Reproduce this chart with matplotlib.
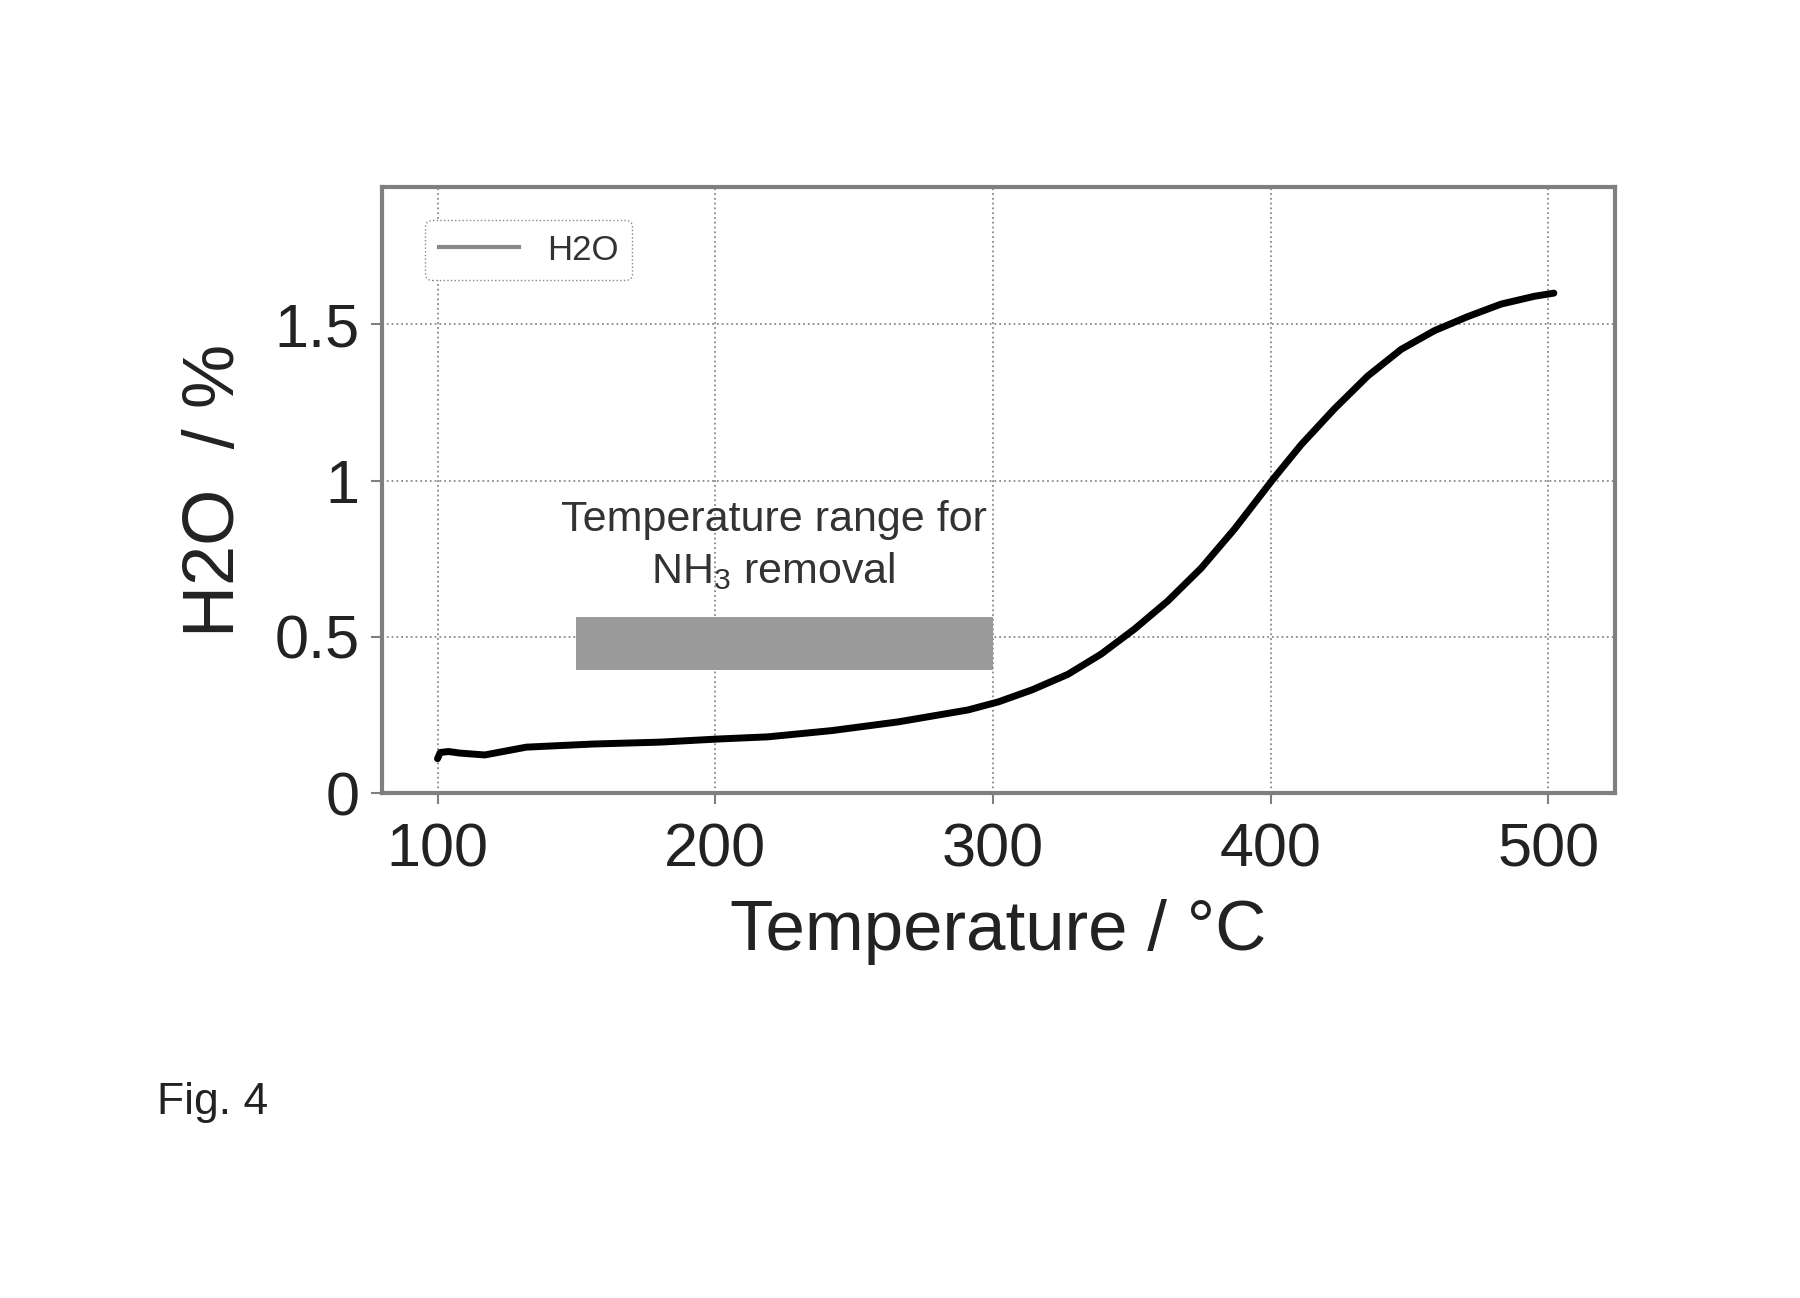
import matplotlib.pyplot as plt

plt.rcParams['font.family'] = ['Liberation Sans', 'DejaVu Sans']
plt.rcParams['mathtext.fontset'] = 'custom'
plt.rcParams['mathtext.rm'] = 'Liberation Sans'
plt.rcParams['mathtext.it'] = 'Liberation Sans'

# values
temp = [100, 101, 104, 108, 117, 132, 156, 180, 201, 219, 242, 266, 291, 302,
        314, 327, 339, 351, 363, 375, 387, 401, 411, 423, 435, 447, 459, 471,
        483, 495, 502]
h2o = [0.11, 0.13, 0.133, 0.128, 0.122, 0.147, 0.157, 0.163, 0.173, 0.18,
       0.20, 0.228, 0.266, 0.292, 0.33, 0.38, 0.445, 0.525, 0.615, 0.72,
       0.845, 1.006, 1.115, 1.23, 1.335, 1.42, 1.48, 1.525, 1.565, 1.59, 1.60]

nh3_range = [150, 300]
bar_y = [0.395, 0.565]

x_ticks = [100, 200, 300, 400, 500]
y_ticks = [0, 0.5, 1, 1.5]
y_tick_labels = ['0', '0.5', '1', '1.5']

fig = plt.figure(figsize=(18, 12.98), dpi=100)
ax = fig.add_axes([0.2122, 0.389, 0.685, 0.467])

ax.fill_between(nh3_range, bar_y[0], bar_y[1], color='#9a9a9a', lw=0, zorder=1)
ax.plot(temp, h2o, color='black', lw=5, solid_capstyle='round',
        solid_joinstyle='round', zorder=3)
# legend handle is a grey line
ax.plot([], [], color='#8a8a8a', lw=3, label='H2O')

ax.text(221, 0.875, 'Temperature range for', ha='center', va='center',
        fontsize=31, color='#333333')
ax.text(221, 0.71, 'NH$_3$ removal', ha='center', va='center',
        fontsize=31, color='#333333')

ax.set_xlim(80, 524)
ax.set_ylim(0, 1.94)
ax.set_xticks(x_ticks)
ax.set_yticks(y_ticks)
ax.set_yticklabels(y_tick_labels)

ax.grid(True, linestyle=':', color='#8a8a8a', lw=1.3)
ax.set_axisbelow(True)
for s in ax.spines.values():
    s.set_color('#7f7f7f')
    s.set_linewidth(3)
ax.tick_params(axis='both', direction='out', length=8, width=1.5,
               color='#7f7f7f', labelsize=44, labelcolor='#222222')
ax.tick_params(axis='x', pad=13)
ax.tick_params(axis='y', pad=8)

ax.set_xlabel('Temperature / °C', fontsize=51, color='#222222', labelpad=14)
ax.set_ylabel('H2O  / %', fontsize=52, color='#222222', labelpad=18)

leg = ax.legend(loc='upper left', bbox_to_anchor=(0.035, 0.946), fontsize=25,
                handlelength=2.3, handletextpad=0.8, borderaxespad=0,
                fancybox=True, framealpha=1, labelcolor='#333333')
leg.get_frame().set_linestyle(':')
leg.get_frame().set_edgecolor('#888888')

fig.text(157 / 1800, 1 - 1114 / 1298, 'Fig. 4', fontsize=32, color='#222222',
         va='baseline')

fig.savefig('out.png', dpi=100, facecolor='white')
